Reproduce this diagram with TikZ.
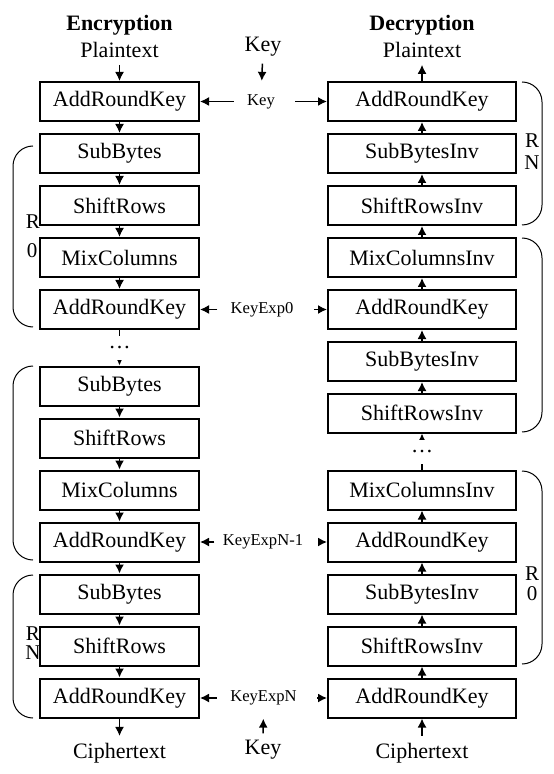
\documentclass[tikz,border=0pt]{standalone}
\usepackage{fontspec}
\setmainfont{Liberation Serif}
\usetikzlibrary{arrows.meta}

\begin{document}
\begin{tikzpicture}[x=0.5pt,y=-0.5pt,
  lbl/.style={font=\fontsize{11}{13}\selectfont},
  ttl/.style={font=\fontsize{11}{13}\selectfont\bfseries},
  rnd/.style={font=\fontsize{10.5}{12}\selectfont,inner sep=0pt},
  stage/.style={lbl,draw,line width=1pt,fill=white,minimum height=19.5pt,inner sep=0pt},
  enc/.style={stage,minimum width=79.5pt},
  dec/.style={stage,minimum width=94pt},
  keyl/.style={font=\fontsize{8.3}{10}\selectfont,inner sep=6.5pt},
  flow/.style={-{Latex[length=4.5pt,width=4.5pt]},line width=0.75pt},
  gap/.style={lbl,fill=white,inner sep=0pt,minimum height=12pt},
  grp/.style={line width=0.5pt,rounded corners=10pt}]

\useasboundingbox (0,0) rectangle (553,774);

% round labels (under the boxes)
\node[rnd] (rza) at (33,222) {R};
\node[rnd] (rzb) at (32,251) {0};
\node[rnd] (rna) at (33,634) {R};
\node[rnd] (rnb) at (33,653) {N};
\node[rnd] (ina) at (532,141) {R};
\node[rnd] (inb) at (532,163) {N};
\node[rnd] (iza) at (532,574) {R};
\node[rnd] (izb) at (532,594) {0};

% encryption
\node[ttl] (etitle) at (119.5,25) {Encryption};
\node[lbl] (ptE) at (119.5,50) {Plaintext};
\node[enc] (e1) at (119.5,101.5) {AddRoundKey};
\node[enc] (e2) at (119.5,153.5) {SubBytes};
\node[enc] (e3) at (119.5,205.5) {ShiftRows};
\node[enc] (e4) at (119.5,257.5) {MixColumns};
\node[enc] (e5) at (119.5,309.5) {AddRoundKey};
\node[enc] (e6) at (119.5,386) {SubBytes};
\node[enc] (e7) at (119.5,438) {ShiftRows};
\node[enc] (e8) at (119.5,490) {MixColumns};
\node[enc] (e9) at (119.5,542) {AddRoundKey};
\node[enc] (e10) at (119.5,594) {SubBytes};
\node[enc] (e11) at (119.5,646) {ShiftRows};
\node[enc] (e12) at (119.5,698) {AddRoundKey};
\node[lbl] (ctE) at (119.5,753) {Ciphertext};

% decryption
\node[ttl] (dtitle) at (422,25) {Decryption};
\node[lbl] (ptD) at (422,50) {Plaintext};
\node[dec] (d1) at (422,101.5) {AddRoundKey};
\node[dec] (d2) at (422,153.5) {SubBytesInv};
\node[dec] (d3) at (422,205.5) {ShiftRowsInv};
\node[dec] (d4) at (422,257.5) {MixColumnsInv};
\node[dec] (d5) at (422,309.5) {AddRoundKey};
\node[dec] (d6) at (422,361.5) {SubBytesInv};
\node[dec] (d7) at (422,413) {ShiftRowsInv};
\node[dec] (d8) at (422,490) {MixColumnsInv};
\node[dec] (d9) at (422,542) {AddRoundKey};
\node[dec] (d10) at (422,594) {SubBytesInv};
\node[dec] (d11) at (422,646) {ShiftRowsInv};
\node[dec] (d12) at (422,698) {AddRoundKey};
\node[lbl] (ctD) at (422,753) {Ciphertext};

% keys
\node[lbl] (keyT) at (263,47) {Key};
\node[keyl] (k0) at (261,101.5) {Key};
\node[keyl] (k1) at (262,309.5) {KeyExp0};
\node[keyl,inner sep=4pt] (k2) at (263,542) {KeyExpN-1};
\node[keyl] (k3) at (263.5,698) {KeyExpN};
\node[lbl] (keyB) at (263,750) {Key};

\draw[flow] (ptE) -- (e1);
\draw[flow] (e1) -- (e2);
\draw[flow] (e2) -- (e3);
\draw[flow] (e3) -- (e4);
\draw[flow] (e4) -- (e5);
\draw[flow] (e5) -- node[gap] {\dots} (e6);
\draw[flow] (e6) -- (e7);
\draw[flow] (e7) -- (e8);
\draw[flow] (e8) -- (e9);
\draw[flow] (e9) -- (e10);
\draw[flow] (e10) -- (e11);
\draw[flow] (e11) -- (e12);
\draw[flow] (e12) -- (ctE);

\draw[flow] (ctD) -- (d12);
\draw[flow] (d12) -- (d11);
\draw[flow] (d11) -- (d10);
\draw[flow] (d10) -- (d9);
\draw[flow] (d9) -- (d8);
\draw[flow] (d8) -- node[gap] {\dots} (d7);
\draw[flow] (d7) -- (d6);
\draw[flow] (d6) -- (d5);
\draw[flow] (d5) -- (d4);
\draw[flow] (d4) -- (d3);
\draw[flow] (d3) -- (d2);
\draw[flow] (d2) -- (d1);
\draw[flow] (d1) -- (ptD);

\draw[flow] (keyT) -- (k0);
\draw[flow] (k0) -- (e1);
\draw[flow,shorten <=3.5pt] (k0) -- (d1);
\draw[flow] (k1) -- (e5);
\draw[flow,shorten <=3.5pt] (k1) -- (d5);
\draw[flow] (k2) -- (e9);
\draw[flow,shorten <=3.5pt] (k2) -- (d9);
\draw[flow] (k3) -- (e12);
\draw[flow,shorten <=3.5pt] (k3) -- (d12);
\draw[flow] (keyB) -- (k3);

% rounds
\draw[grp] (33,146) -- (13,146) -- (13,327) -- (33,327);
\draw[grp] (33,366) -- (13,366) -- (13,560) -- (33,560);
\draw[grp] (33,575) -- (13,575) -- (13,718) -- (33,718);
\draw[grp] (522,82) -- (542,82) -- (542,225) -- (522,225);
\draw[grp] (522,238) -- (542,238) -- (542,432) -- (522,432);
\draw[grp] (522,471) -- (542,471) -- (542,664) -- (522,664);

\end{tikzpicture}
\end{document}
